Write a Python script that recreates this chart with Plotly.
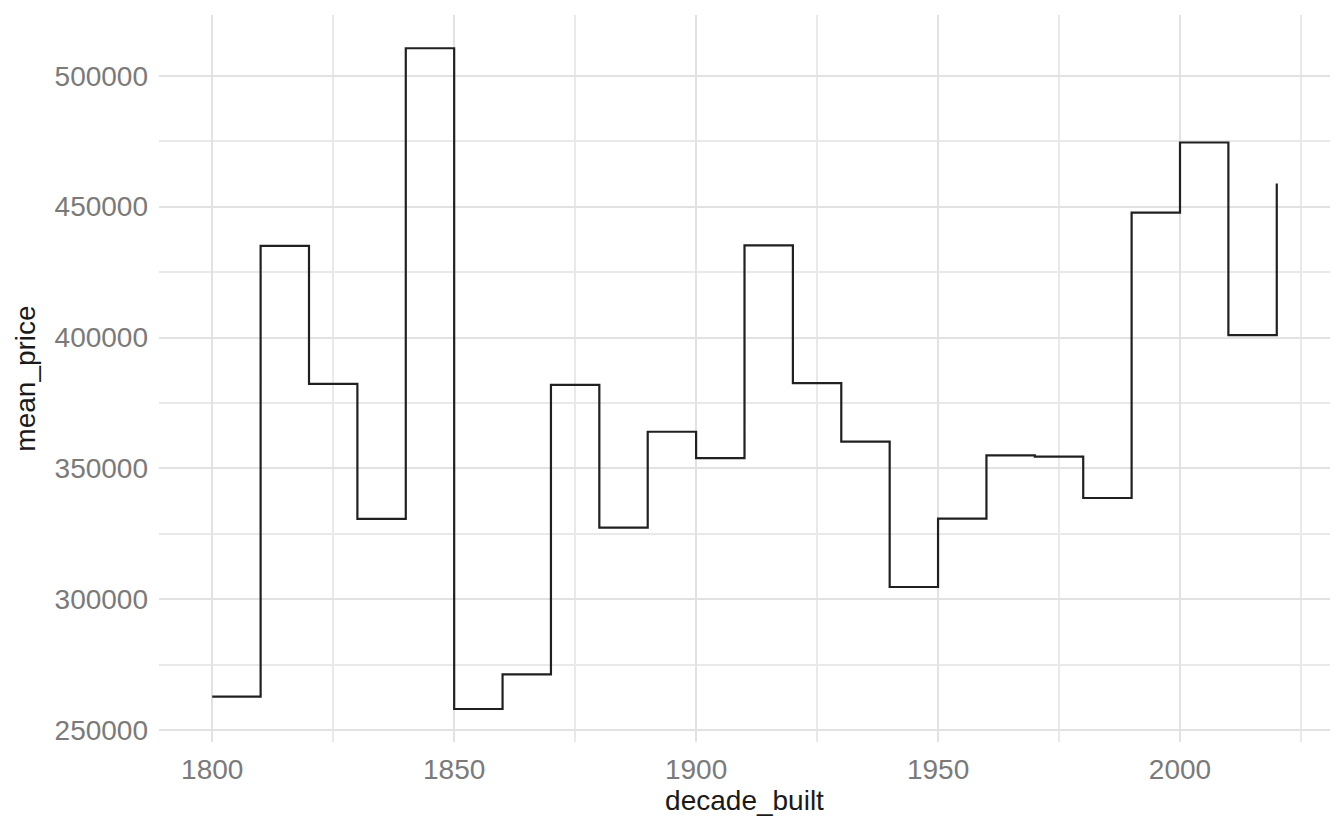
import plotly.graph_objects as go

decades = [1800, 1810, 1820, 1830, 1840, 1850, 1860, 1870, 1880, 1890, 1900, 1910,
           1920, 1930, 1940, 1950, 1960, 1970, 1980, 1990, 2000, 2010, 2020]
mean_price = [262800, 435000, 382300, 330700, 510500, 258100, 271300, 381900, 327400,
              364000, 353900, 435200, 382600, 360200, 304700, 330800, 355000, 354500,
              338700, 447700, 474500, 400900, 458800]

x_ticks = [1800, 1850, 1900, 1950, 2000]
y_ticks = [250000, 300000, 350000, 400000, 450000, 500000]

font_family = "Liberation Sans, Arial, sans-serif"
grid_major = "#e2e2e2"
grid_minor = "#e9e9e9"

fig = go.Figure(go.Scatter(
    x=decades,
    y=mean_price,
    mode="lines",
    line=dict(shape="hv", color="#202020", width=2.2),
))

# the page body adds an 8px offset, margins account for it
fig.update_layout(
    width=1344,
    height=830,
    margin=dict(l=151, r=22, t=7, b=96),
    plot_bgcolor="white",
    paper_bgcolor="white",
    showlegend=False,
    font=dict(family=font_family, size=28, color="#1a1a1a"),
)

fig.update_xaxes(
    range=[1789, 2031],
    tickvals=x_ticks,
    ticks="",
    ticklabelstandoff=8,
    tickfont=dict(size=28, color="#7a7a7a"),
    showgrid=True,
    gridcolor=grid_major,
    gridwidth=2.2,
    minor=dict(tick0=1800, dtick=25, showgrid=True, gridcolor=grid_minor, gridwidth=2),
    zeroline=False,
    showline=False,
    title=dict(text="decade_built", font=dict(size=28, color="#1a1a1a"), standoff=6),
)

fig.update_yaxes(
    range=[245500, 523200],
    tickvals=y_ticks,
    tickformat="d",
    ticks="",
    ticklabelstandoff=10,
    tickfont=dict(size=28, color="#7a7a7a"),
    showgrid=True,
    gridcolor=grid_major,
    gridwidth=2.2,
    minor=dict(tick0=250000, dtick=25000, showgrid=True, gridcolor=grid_minor, gridwidth=2),
    zeroline=False,
    showline=False,
    title=dict(text="mean_price", font=dict(size=28, color="#1a1a1a"), standoff=10),
)

fig.write_html("out.html")
